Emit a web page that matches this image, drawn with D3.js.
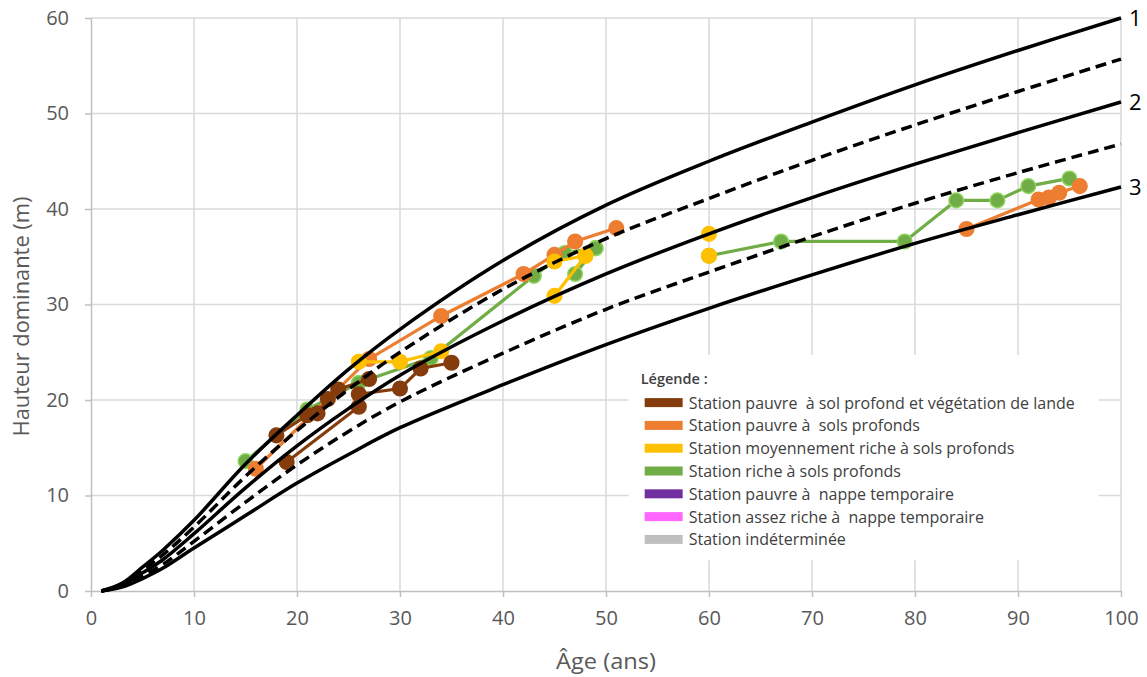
<!DOCTYPE html>
<html>
<head>
<meta charset="utf-8">
<script src="https://cdn.jsdelivr.net/npm/d3@7"></script>
<style>
    body { margin: 0; background: #fff; }
    svg text { font-family: "Open Sans", sans-serif; }
</style>
</head>
<body>
<svg id="chart" width="1147" height="677"></svg>
<script>
// reference curves (site classes)
const AGES = [1, 3, 5, 7, 10, 15, 20, 25, 30, 40, 50, 60, 70, 80, 90, 100];
const class1 = [0, 0.8, 2.5, 4.3, 7.4, 13.3, 18.4, 23.2, 27.4, 34.6, 40.4, 45.0, 49.1, 53.0, 56.6, 60.0];
const class12 = [0, 0.7, 2.2, 3.8, 6.7, 12.0, 16.8, 21.1, 25.0, 31.6, 36.9, 41.1, 45.1, 48.8, 52.3, 55.7];
const class2 = [0, 0.6, 1.9, 3.3, 6.0, 10.8, 15.2, 19.1, 22.6, 28.3, 33.2, 37.4, 41.2, 44.7, 48.0, 51.2];
const class23 = [0, 0.5, 1.6, 2.8, 5.2, 9.3, 13.2, 16.7, 19.8, 24.9, 29.5, 33.4, 37.1, 40.6, 43.8, 46.8];
const class3 = [0, 0.4, 1.3, 2.4, 4.5, 7.9, 11.3, 14.3, 17.1, 21.6, 25.8, 29.6, 33.1, 36.4, 39.4, 42.3];

// measured plots [age, height], one list per plot
const brownPlots = [
    [[18, 16.3], [21, 18.4], [22, 18.6], [23, 20.1], [24, 21.1], [27, 22.2]],
    [[19, 13.5], [26, 19.3], [26, 20.6], [30, 21.2], [32, 23.3], [35, 23.9]]
];
const orangePlots = [
    [[16, 12.8], [27, 24.3], [34, 28.8], [42, 33.2], [45, 35.2], [47, 36.6], [51, 38.0]],
    [[85, 37.9], [92, 41.0], [93, 41.2], [94, 41.7], [96, 42.4]]
];
const yellowPlots = [
    [[26, 24.0], [30, 24.0], [34, 25.1]],
    [[45, 30.9], [48, 35.1]],
    [[45, 34.5], [48, 35.1]],
    [[60, 37.4]],
    [[60, 35.1]]
];
const greenPlots = [
    [[15, 13.6], [21, 19.0], [26, 21.8], [33, 24.4], [43, 33.0], [46, 35.4], [49, 35.9]],
    [[47, 33.2], [49, 35.9]],
    [[60, 35.1], [67, 36.6], [79, 36.6], [84, 40.9], [88, 40.9], [91, 42.4], [95, 43.2]]
];

const xTicks = [0, 10, 20, 30, 40, 50, 60, 70, 80, 90, 100];
const yTicks = [0, 10, 20, 30, 40, 50, 60];

const legendLabels = [
    "Station pauvre  à sol profond et végétation de lande",
    "Station pauvre à  sols profonds",
    "Station moyennement riche à sols profonds",
    "Station riche à sols profonds",
    "Station pauvre à  nappe temporaire",
    "Station assez riche à  nappe temporaire",
    "Station indéterminée"
];
const legendColors = ["#843c0c", "#ed7d31", "#ffc000", "#70ad47", "#7030a0", "#ff66ff", "#bfbfbf"];

// all chart stuff under this object
var chart = {};
chart.margins = { top: 18, bottom: 86, left: 91, right: 26 };
chart.width = 1147 - chart.margins.left - chart.margins.right;
chart.height = 677 - chart.margins.top - chart.margins.bottom;

chart.x = d3.scaleLinear().domain([0, 100]).range([0, chart.width]);
chart.y = d3.scaleLinear().domain([0, 60]).range([chart.height, 0]);

chart.svg = d3.select("#chart")
    .append("g")
    .attr("transform", `translate(${chart.margins.left}, ${chart.margins.top})`);

// gridlines
chart.svg.append("g")
    .selectAll("line")
    .data(xTicks.slice(1))
    .enter().append("line")
    .attr("x1", d => chart.x(d)).attr("x2", d => chart.x(d))
    .attr("y1", 0).attr("y2", chart.height)
    .attr("stroke", "#d9d9d9").attr("stroke-width", 1.5);
chart.svg.append("g")
    .selectAll("line")
    .data(yTicks.slice(1))
    .enter().append("line")
    .attr("x1", 0).attr("x2", chart.width)
    .attr("y1", d => chart.y(d)).attr("y2", d => chart.y(d))
    .attr("stroke", "#d9d9d9").attr("stroke-width", 1.5);

// axes
var xAxis = chart.svg.append("g")
    .attr("transform", `translate(0, ${chart.height})`)
    .call(d3.axisBottom(chart.x).tickValues(xTicks).tickSize(6).tickPadding(14).tickSizeOuter(0));
var yAxis = chart.svg.append("g")
    .call(d3.axisLeft(chart.y).tickValues(yTicks).tickSize(6).tickPadding(16).tickSizeOuter(0));
[xAxis, yAxis].forEach(function(ax) {
    ax.select(".domain").attr("stroke", "#bfbfbf").attr("stroke-width", 1.5);
    ax.selectAll(".tick line").attr("stroke", "#bfbfbf").attr("stroke-width", 1.5);
    ax.selectAll(".tick text")
        .attr("fill", "#595959")
        .style("font-size", "20px")
        .style("font-family", "Open Sans, sans-serif");
});

// axis titles
chart.svg.append("text")
    .attr("x", chart.x(50))
    .attr("y", chart.height + 78)
    .attr("text-anchor", "middle")
    .attr("fill", "#595959")
    .attr("textLength", 100)
    .attr("lengthAdjust", "spacingAndGlyphs")
    .style("font-size", "21px")
    .text("Âge (ans)");
chart.svg.append("text")
    .attr("transform", `translate(-62, ${chart.height / 2 + 12}) rotate(-90)`)
    .attr("text-anchor", "middle")
    .attr("fill", "#595959")
    .attr("textLength", 240)
    .attr("lengthAdjust", "spacingAndGlyphs")
    .style("font-size", "21px")
    .text("Hauteur dominante (m)");

// measured plots
var line = d3.line()
    .x(d => chart.x(d[0]))
    .y(d => chart.y(d[1]));

var drawPlots = function(plots, color, edge) {
    var g = chart.svg.append("g");
    plots.forEach(function(p) {
        if (p.length > 1) {
            g.append("path")
                .datum(p)
                .attr("d", line)
                .attr("fill", "none")
                .attr("stroke", color)
                .attr("stroke-width", 3.2);
        }
        g.selectAll(null)
            .data(p)
            .enter().append("circle")
            .attr("cx", d => chart.x(d[0]))
            .attr("cy", d => chart.y(d[1]))
            .attr("r", 7.3)
            .attr("fill", color)
            .attr("stroke", edge || color)
            .attr("stroke-width", 1.5);
    });
};
drawPlots(greenPlots, "#70ad47", "#8fd45c");
drawPlots(orangePlots, "#ed7d31");
drawPlots(yellowPlots, "#ffc000");
drawPlots(brownPlots, "#843c0c");

// reference curves
var curve = d3.line()
    .x((d, i) => chart.x(AGES[i]))
    .y(d => chart.y(d))
    .curve(d3.curveCatmullRom.alpha(0.5));
var refCurves = [
    { values: class1, dash: null, label: "1" },
    { values: class12, dash: "11,6", label: null },
    { values: class2, dash: null, label: "2" },
    { values: class23, dash: "11,6", label: null },
    { values: class3, dash: null, label: "3" }
];
chart.svg.append("g")
    .selectAll("path")
    .data(refCurves)
    .enter().append("path")
    .attr("d", d => curve(d.values))
    .attr("fill", "none")
    .attr("stroke", "#000")
    .attr("stroke-width", 3.5)
    .attr("stroke-dasharray", d => d.dash);

chart.svg.append("g")
    .selectAll("text")
    .data(refCurves.filter(d => d.label))
    .enter().append("text")
    .attr("x", chart.x(100) + 8)
    .attr("y", d => chart.y(d.values[d.values.length - 1]) + 8)
    .attr("fill", "#000")
    .style("font-size", "22px")
    .text(d => d.label);

// legend
var legend = chart.svg.append("g")
    .attr("transform", `translate(${chart.x(52.2)}, ${chart.y(24.7)})`);
legend.append("rect")
    .attr("x", 0).attr("y", 0)
    .attr("width", 470).attr("height", 205)
    .attr("fill", "#fff");
legend.append("text")
    .attr("x", 12).attr("y", 29)
    .attr("fill", "#404040")
    .style("font-size", "14.5px")
    .style("font-weight", "600")
    .text("Légende :");
var items = legend.selectAll("g")
    .data(legendLabels)
    .enter().append("g")
    .attr("transform", (d, i) => `translate(0, ${48 + i * 22.8})`);
items.append("rect")
    .attr("x", 16).attr("y", -5)
    .attr("width", 38).attr("height", 9)
    .attr("fill", (d, i) => legendColors[i]);
items.append("text")
    .attr("x", 60).attr("y", 5.5)
    .attr("fill", "#404040")
    .style("font-size", "16px")
    .style("white-space", "pre")
    .text(d => d);
</script>
</body>
</html>
